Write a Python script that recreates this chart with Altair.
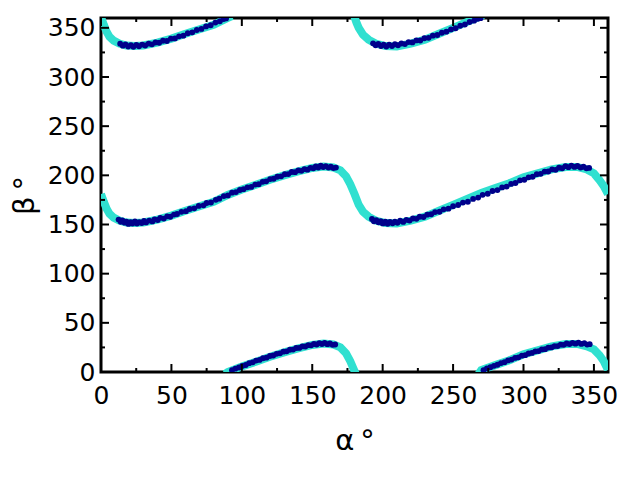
import altair as alt
import pandas as pd

# ---- cyan reference curve segments (alpha, beta) ----
mid_a = [0, 2, 4, 6, 9, 13, 18, 24, 30, 40, 50, 60, 70, 80, 90, 100, 110, 120, 130, 140, 150, 158, 165, 170, 174, 177, 180, 183, 186, 190, 195, 202, 210, 220, 230, 240, 250, 260, 270, 280, 290, 300, 310, 320, 330, 338, 345, 350, 354, 357, 360]
mid_b = [181, 173, 166, 161, 157, 154, 152, 151.5, 152, 155, 159, 164, 168.5, 173, 180, 185.5, 190.5, 195.5, 200, 204, 207.5, 209, 208, 205, 199, 191, 181, 170, 163, 158, 154, 151.5, 151, 154, 158, 164, 170, 176, 182, 187, 192, 198, 202, 206, 208.5, 208.5, 206, 202, 195, 189, 181]

top1_a = [0, 2, 4, 6, 9, 13, 18, 24, 30, 40, 50, 60, 70, 80, 90, 93]
top1_b = [361, 353, 346, 341, 337, 334, 332, 331.5, 332, 335, 339, 344, 348.5, 353, 360, 362]

top2_a = [179, 180, 181.5, 183, 186, 190, 195, 202, 210, 220, 230, 240, 250, 260, 270, 272]
top2_b = [366, 361, 355, 350, 343, 338, 334, 331.5, 331, 334, 338, 344, 350, 356, 362, 364]

bot1_a = [88, 90, 100, 110, 120, 130, 140, 150, 158, 165, 170, 174, 177, 180, 181]
bot1_b = [-2, 0, 5.5, 10.5, 15.5, 20, 24, 27.5, 29, 28, 25, 19, 11, 1, -2]

bot2_a = [268, 270, 280, 290, 300, 310, 320, 330, 338, 345, 350, 354, 357, 360]
bot2_b = [-2, 2, 7, 12, 18, 22, 26, 28.5, 28.5, 26, 23, 17, 11, 2]

# ---- sampled points (alpha, beta) ----
p_mid1_a = [12.5, 14.0, 15.2, 16.8, 18.1, 19.5, 21.0, 22.3, 24.1, 25.6, 27.2, 28.9, 30.5, 32.0, 34.2, 36.5, 38.0, 40.3, 42.1, 44.6, 47.0, 49.2, 51.8, 54.0, 57.1, 60.3, 63.0, 66.2, 69.4, 72.8, 75.0, 78.1, 81.5, 84.0, 87.2, 90.1, 93.0, 95.8, 98.6, 101.2, 104.0, 106.7, 109.5, 112.0, 114.8, 117.3, 120.1, 122.6, 125.2, 127.9, 130.5, 133.0, 135.4, 137.8, 140.1, 142.3, 144.5, 146.6, 148.7, 150.8, 152.5, 154.3, 156.0, 157.8, 159.6, 161.5, 163.2, 165.0, 166.8]
p_mid1_b = [155.0, 152.8, 154.1, 151.9, 153.0, 150.6, 152.4, 151.0, 153.2, 150.9, 152.5, 151.4, 153.6, 152.1, 154.0, 153.1, 155.2, 154.6, 156.8, 156.0, 158.3, 157.9, 160.1, 160.7, 162.9, 163.6, 165.8, 166.4, 168.9, 169.5, 171.9, 172.4, 175.1, 176.3, 178.9, 179.6, 182.4, 183.0, 185.1, 185.9, 187.8, 188.2, 190.6, 191.0, 193.4, 193.9, 196.2, 196.5, 198.6, 199.0, 201.1, 201.3, 203.4, 203.2, 205.0, 204.6, 206.4, 205.8, 207.6, 207.2, 209.1, 208.0, 209.8, 208.4, 209.3, 207.9, 208.8, 207.4, 207.9]

p_mid2_a = [192.4, 193.8, 195.5, 197.0, 198.6, 200.1, 201.9, 203.5, 205.2, 207.0, 208.7, 210.5, 212.4, 214.6, 216.8, 219.1, 221.5, 224.0, 226.3, 229.0, 231.6, 234.5, 237.2, 240.4, 243.3, 246.7, 250.0, 253.6, 257.0, 260.5, 264.2, 267.8, 271.0, 274.6, 278.0, 281.5, 284.8, 288.0, 291.2, 294.3, 297.5, 300.6, 303.6, 306.5, 309.4, 312.2, 315.0, 317.6, 320.3, 322.8, 325.2, 327.5, 329.8, 331.9, 334.0, 336.2, 338.3, 340.5, 342.6, 344.7, 346.6]
p_mid2_b = [155.6, 153.3, 154.5, 152.2, 153.4, 151.1, 152.9, 150.8, 152.6, 151.2, 153.0, 151.7, 153.8, 152.6, 154.7, 154.0, 156.1, 155.8, 157.9, 157.6, 160.0, 160.4, 162.6, 163.0, 165.4, 166.1, 168.6, 169.8, 172.3, 173.1, 176.0, 177.4, 180.2, 181.3, 184.1, 185.0, 187.7, 188.6, 191.3, 192.2, 194.9, 195.5, 198.0, 198.6, 201.2, 201.5, 203.8, 203.9, 206.0, 205.6, 207.7, 207.2, 209.3, 208.3, 209.9, 208.6, 209.5, 208.0, 208.7, 207.1, 207.5]

p_top1_a = [13.6, 15.5, 17.4, 19.3, 21.2, 23.0, 25.1, 27.0, 29.2, 31.4, 33.8, 36.2, 38.7, 41.3, 44.0, 46.8, 49.6, 52.5, 55.4, 58.5, 61.6, 64.8, 68.0, 71.3, 74.6, 77.9, 81.2, 84.4, 87.0, 88.8]
p_top1_b = [333.8, 331.9, 333.2, 331.0, 332.4, 330.8, 332.6, 331.3, 333.0, 332.0, 333.9, 333.2, 335.1, 334.8, 336.9, 336.6, 339.0, 339.2, 341.4, 342.0, 344.5, 345.4, 347.8, 348.9, 351.4, 352.6, 355.3, 356.7, 359.0, 359.6]

p_top2_a = [193.2, 195.0, 196.9, 198.8, 200.7, 202.6, 204.6, 206.6, 208.7, 210.9, 213.3, 215.8, 218.4, 221.1, 223.9, 226.7, 229.6, 232.6, 235.6, 238.8, 242.0, 245.2, 248.5, 251.8, 255.1, 258.4, 261.7, 264.9, 267.6, 269.5]
p_top2_b = [334.2, 332.3, 333.6, 331.4, 332.8, 331.0, 332.9, 331.5, 333.3, 332.3, 334.1, 333.5, 335.5, 335.2, 337.2, 337.1, 339.4, 339.8, 342.0, 342.7, 345.0, 346.1, 348.4, 349.6, 352.1, 353.4, 355.9, 357.3, 359.2, 359.8]

p_bot1_a = [93.0, 95.4, 97.9, 100.3, 102.8, 105.2, 107.7, 110.1, 112.6, 115.0, 117.5, 119.9, 122.3, 124.7, 127.1, 129.5, 131.8, 134.1, 136.4, 138.6, 140.8, 143.0, 145.1, 147.2, 149.2, 151.2, 153.1, 155.0, 156.9, 158.8, 160.7, 162.6, 164.5, 166.3]
p_bot1_b = [1.8, 3.4, 4.6, 6.2, 7.1, 9.0, 9.8, 11.6, 12.3, 14.0, 14.6, 16.3, 16.8, 18.5, 19.0, 20.7, 21.0, 22.6, 22.8, 24.4, 24.5, 26.0, 25.9, 27.3, 27.1, 28.5, 28.0, 29.4, 28.5, 29.6, 28.3, 29.0, 27.6, 28.0]

p_bot2_a = [271.6, 274.0, 276.5, 279.0, 281.5, 284.0, 286.5, 289.0, 291.5, 294.0, 296.4, 298.8, 301.2, 303.6, 306.0, 308.4, 310.7, 313.0, 315.3, 317.6, 319.8, 322.0, 324.2, 326.4, 328.5, 330.6, 332.7, 334.8, 336.9, 339.0, 341.1, 343.2, 345.2, 347.0]
p_bot2_b = [1.9, 3.6, 4.8, 6.3, 7.4, 9.1, 10.0, 11.8, 12.6, 14.3, 14.9, 16.6, 17.1, 18.8, 19.4, 21.0, 21.3, 23.0, 23.2, 24.8, 25.0, 26.4, 26.4, 27.8, 27.6, 29.0, 28.4, 29.7, 28.8, 29.8, 28.6, 29.3, 27.9, 28.3]

major_ticks = [0, 50, 100, 150, 200, 250, 300, 350]
minor_ticks = [25, 75, 125, 175, 225, 275, 325]

# ---- build tables ----
curve_rows = []
for name, A, B in [("mid", mid_a, mid_b), ("top1", top1_a, top1_b), ("top2", top2_a, top2_b),
                   ("bot1", bot1_a, bot1_b), ("bot2", bot2_a, bot2_b)]:
    for i, (a, b) in enumerate(zip(A, B)):
        curve_rows.append({"seg": name, "i": i, "a": a, "b": b})
curve_df = pd.DataFrame(curve_rows)

pt_rows = []
for A, B in [(p_mid1_a, p_mid1_b), (p_mid2_a, p_mid2_b), (p_top1_a, p_top1_b), (p_top2_a, p_top2_b),
             (p_bot1_a, p_bot1_b), (p_bot2_a, p_bot2_b)]:
    for a, b in zip(A, B):
        pt_rows.append({"a": a, "b": b})
pt_df = pd.DataFrame(pt_rows)

FONT = "DejaVu Sans"
W, H = 507, 354
xs = alt.Scale(domain=[0, 360], nice=False, zero=False)
ys = alt.Scale(domain=[0, 360], nice=False, zero=False)

xaxis = alt.Axis(values=major_ticks, tickSize=0, domain=False, grid=False, labelFont=FONT,
                 labelFontSize=25, labelColor="black", labelPadding=11, title="α\u2009°",
                 titleFont=FONT, titleFontSize=29, titleFontWeight="normal", titleColor="black",
                 titlePadding=18, labelFlush=False)
yaxis = alt.Axis(values=major_ticks, tickSize=0, domain=False, grid=False, labelFont=FONT,
                 labelFontSize=25, labelColor="black", labelPadding=6, title="β\u2009°",
                 titleFont=FONT, titleFontSize=29, titleFontWeight="normal", titleColor="black",
                 titlePadding=8, labelFlush=False)

X = alt.X("a:Q", scale=xs, axis=xaxis)
Y = alt.Y("b:Q", scale=ys, axis=yaxis)

line = alt.Chart(curve_df).mark_line(color="#30E0D0", strokeWidth=8, clip=True).encode(
    x=X, y=Y, detail="seg:N", order="i:Q",
)

pts = alt.Chart(pt_df).mark_circle(color="#00008B", size=34, opacity=1, clip=True).encode(
    x=X, y=Y,
)


def xticks(vals, y0, y1):
    return alt.Chart(pd.DataFrame({"a": vals})).mark_rule(color="black", strokeWidth=2).encode(
        x=X, y=alt.value(y0), y2=alt.value(y1))


def yticks(vals, x0, x1):
    return alt.Chart(pd.DataFrame({"b": vals})).mark_rule(color="black", strokeWidth=2).encode(
        y=Y, x=alt.value(x0), x2=alt.value(x1))


tick_layers = [
    xticks(major_ticks, H, H - 8), xticks(minor_ticks, H, H - 4),
    xticks(major_ticks, 0, 8), xticks(minor_ticks, 0, 4),
    yticks(major_ticks, 0, 8), yticks(minor_ticks, 0, 4),
    yticks(major_ticks, W, W - 8), yticks(minor_ticks, W, W - 4),
]

chart = alt.layer(line, pts, *tick_layers).properties(
    width=W, height=H,
    autosize=alt.AutoSizeParams(type="none"),
    padding={"left": 93, "top": 10, "right": 22, "bottom": 98},
).configure(background="white").configure_view(stroke="black", strokeWidth=3)

chart.save("out.html", embed_options={"renderer": "svg", "actions": False})
